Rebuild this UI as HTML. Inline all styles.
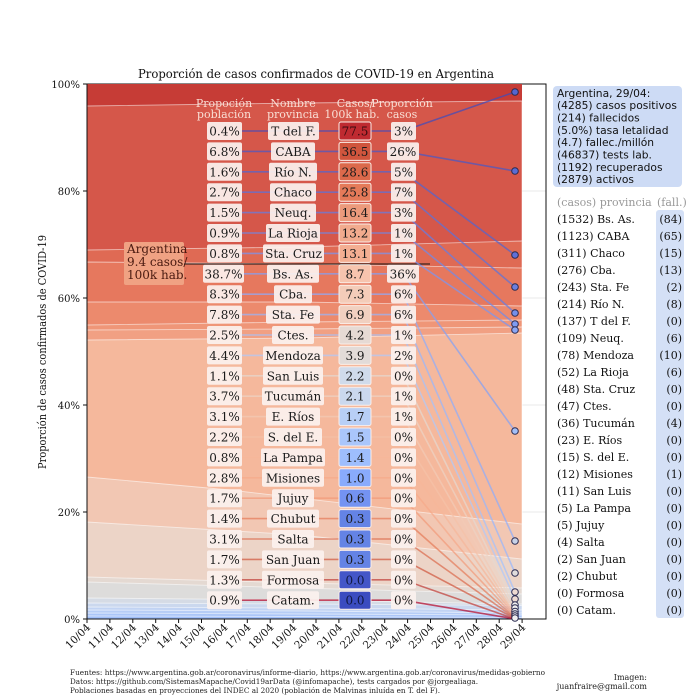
<!DOCTYPE html>
<html><head><meta charset="utf-8"><style>
html,body{margin:0;padding:0;background:#fff}
svg{display:block}
.s{font-family:"DejaVu Serif","Liberation Serif",serif}
.ss{font-family:"DejaVu Sans","Liberation Sans",sans-serif}
</style></head><body>
<svg width="696" height="696" viewBox="0 0 696 696" xmlns="http://www.w3.org/2000/svg">
<rect width="696" height="696" fill="#fff"/>
<text class="s" x="316" y="78" font-size="12.5" text-anchor="middle" textLength="356" lengthAdjust="spacingAndGlyphs" fill="#111">Proporción de casos confirmados de COVID-19 en Argentina</text>
<text class="s" font-size="11" text-anchor="middle" transform="translate(46,352) rotate(-90)" textLength="234" lengthAdjust="spacingAndGlyphs" fill="#111">Proporción de casos confirmados de COVID-19</text>
<g stroke="#e8e8e8" stroke-width="1">
<line x1="522" y1="191" x2="546" y2="191"/><line x1="522" y1="298" x2="546" y2="298"/><line x1="522" y1="405" x2="546" y2="405"/><line x1="522" y1="512" x2="546" y2="512"/>
</g>
<rect x="87" y="84" width="459" height="535" fill="none" stroke="#111" stroke-width="1"/>
<g stroke="#fff" stroke-opacity="0.55" stroke-width="0.9">
<rect x="87" y="84" width="435" height="535" fill="#c63c36" stroke="none"/>
<polygon points="87,106 300,103 522,101 522,619 87,619" fill="#d5574a"/>
<polygon points="87,250 300,247 522,241 522,619 87,619" fill="#df6a54"/>
<polygon points="87,262 300,264 522,268 522,619 87,619" fill="#e6785e"/>
<polygon points="87,302 300,302 522,306 522,619 87,619" fill="#ec8a6d"/>
<polygon points="87,325 300,322 522,320 522,619 87,619" fill="#ef9678"/>
<polygon points="87,330 300,329 522,327 522,619 87,619" fill="#f1a083"/>
<polygon points="87,340 300,338 522,333 522,619 87,619" fill="#f5b89c"/>
<polygon points="87,477 230,490 522,524 522,619 87,619" fill="#f2c7b3"/>
<polygon points="87,522 300,535 522,559 522,619 87,619" fill="#ecd4c7"/>
<polygon points="87,577 300,583 522,588 522,619 87,619" fill="#e4d9d2"/>
<polygon points="87,582 300,588 522,594 522,619 87,619" fill="#dddcdb"/>
<polygon points="87,598 300,600 522,604 522,619 87,619" fill="#d5dbe5"/>
<polygon points="87,603 300,604 522,605.5 522,619 87,619" fill="#cbd8ee"/>
<polygon points="87,607 300,608 522,610 522,619 87,619" fill="#c1d3f3"/>
<polygon points="87,610 300,611 522,613 522,619 87,619" fill="#b6cdf6"/>
<polygon points="87,613 300,614 522,615 522,619 87,619" fill="#abc6f8"/>
<polygon points="87,616 300,616.5 522,617.5 522,619 87,619" fill="#a1bff9"/>
</g>
<g stroke="#111" stroke-width="1">
<line x1="83" y1="84" x2="87" y2="84"/><line x1="83" y1="191" x2="87" y2="191"/><line x1="83" y1="298" x2="87" y2="298"/><line x1="83" y1="405" x2="87" y2="405"/><line x1="83" y1="512" x2="87" y2="512"/><line x1="83" y1="619" x2="87" y2="619"/>
<line x1="87" y1="84" x2="87" y2="619"/><line x1="87" y1="619" x2="546" y2="619"/>
<line x1="87" y1="619" x2="87" y2="623"/><line x1="109.9" y1="619" x2="109.9" y2="623"/><line x1="132.8" y1="619" x2="132.8" y2="623"/><line x1="155.7" y1="619" x2="155.7" y2="623"/><line x1="178.6" y1="619" x2="178.6" y2="623"/><line x1="201.5" y1="619" x2="201.5" y2="623"/><line x1="224.4" y1="619" x2="224.4" y2="623"/><line x1="247.3" y1="619" x2="247.3" y2="623"/><line x1="270.2" y1="619" x2="270.2" y2="623"/><line x1="293.1" y1="619" x2="293.1" y2="623"/><line x1="316" y1="619" x2="316" y2="623"/><line x1="338.9" y1="619" x2="338.9" y2="623"/><line x1="361.8" y1="619" x2="361.8" y2="623"/><line x1="384.7" y1="619" x2="384.7" y2="623"/><line x1="407.6" y1="619" x2="407.6" y2="623"/><line x1="430.5" y1="619" x2="430.5" y2="623"/><line x1="453.4" y1="619" x2="453.4" y2="623"/><line x1="476.3" y1="619" x2="476.3" y2="623"/><line x1="499.2" y1="619" x2="499.2" y2="623"/><line x1="522.1" y1="619" x2="522.1" y2="623"/>
</g>
<g class="s" font-size="10" fill="#111" text-anchor="end">
<text x="80" y="88">100%</text><text x="80" y="195">80%</text><text x="80" y="302">60%</text><text x="80" y="409">40%</text><text x="80" y="516">20%</text><text x="80" y="623">0%</text>
</g>
<g class="s" font-size="10.5" fill="#111" text-anchor="end">
<text transform="translate(91,628) rotate(-45)">10/04</text>
<text transform="translate(113.9,628) rotate(-45)">11/04</text>
<text transform="translate(136.8,628) rotate(-45)">12/04</text>
<text transform="translate(159.7,628) rotate(-45)">13/04</text>
<text transform="translate(182.6,628) rotate(-45)">14/04</text>
<text transform="translate(205.5,628) rotate(-45)">15/04</text>
<text transform="translate(228.4,628) rotate(-45)">16/04</text>
<text transform="translate(251.3,628) rotate(-45)">17/04</text>
<text transform="translate(274.2,628) rotate(-45)">18/04</text>
<text transform="translate(297.1,628) rotate(-45)">19/04</text>
<text transform="translate(320,628) rotate(-45)">20/04</text>
<text transform="translate(342.9,628) rotate(-45)">21/04</text>
<text transform="translate(365.8,628) rotate(-45)">22/04</text>
<text transform="translate(388.7,628) rotate(-45)">23/04</text>
<text transform="translate(411.6,628) rotate(-45)">24/04</text>
<text transform="translate(434.5,628) rotate(-45)">25/04</text>
<text transform="translate(457.4,628) rotate(-45)">26/04</text>
<text transform="translate(480.3,628) rotate(-45)">27/04</text>
<text transform="translate(503.2,628) rotate(-45)">28/04</text>
<text transform="translate(526.1,628) rotate(-45)">29/04</text>
</g>
<g class="s" font-size="11" fill="#f9ded4" text-anchor="middle">
<text x="224" y="107">Propoción</text><text x="224" y="118">población</text>
<text x="293" y="107">Nombre</text><text x="293" y="118">provincia</text>
<text x="355" y="107">Casos/</text><text x="352" y="118">100k hab.</text>
<text x="402" y="107">Proporción</text><text x="402" y="118">casos</text>
</g>
<line x1="182" y1="264" x2="430" y2="264" stroke="#111" stroke-width="1"/>
<rect x="124" y="242" width="60" height="43" fill="#f0a283" rx="2"/>
<g class="s" font-size="12" fill="#4a1a10"><text x="127" y="253">Argentina</text><text x="127" y="266">9.4 casos/</text><text x="127" y="279">100k hab.</text></g>
<g stroke-width="1.6" fill="none" stroke-opacity="0.7">
<polyline points="240,131 403,131 515,92" stroke="#3b4cc0"/>
<polyline points="240,151.4 403,151.4 515,171" stroke="#4358cb"/>
<polyline points="240,171.8 403,171.8 515,255" stroke="#4c66d6"/>
<polyline points="240,192.2 403,192.2 515,287" stroke="#5573df"/>
<polyline points="240,212.6 403,212.6 515,313" stroke="#5f7fe8"/>
<polyline points="240,233 403,233 515,324" stroke="#6a8bef"/>
<polyline points="240,253.4 403,253.4 515,330" stroke="#7597f6"/>
<polyline points="240,273.8 403,273.8 515,431" stroke="#7fa1fa"/>
<polyline points="240,294.2 403,294.2 515,541" stroke="#8badfd"/>
<polyline points="240,314.6 403,314.6 515,573" stroke="#96b7ff"/>
<polyline points="240,335 403,335 515,592" stroke="#a3c2fe"/>
<polyline points="240,355.4 403,355.4 515,599" stroke="#aec9fc"/>
<polyline points="240,375.8 403,375.8 515,605" stroke="#e4d9d2"/>
<polyline points="240,396.2 403,396.2 515,608" stroke="#ecd3c5"/>
<polyline points="240,416.6 403,416.6 515,611.5" stroke="#f2cbb7"/>
<polyline points="240,437 403,437 515,614" stroke="#f5c2a8"/>
<polyline points="240,457.4 403,457.4 515,615" stroke="#f7b79a"/>
<polyline points="240,477.8 403,477.8 515,616" stroke="#f6a98a"/>
<polyline points="240,498.2 403,498.2 515,617" stroke="#f29a79"/>
<polyline points="240,518.6 403,518.6 515,617.8" stroke="#e57a59"/>
<polyline points="240,539 403,539 515,618.1" stroke="#dc694b"/>
<polyline points="240,559.4 403,559.4 515,618.5" stroke="#d0553d"/>
<polyline points="240,579.8 403,579.8 515,619" stroke="#c03a35"/>
<polyline points="240,600.2 403,600.2 515,619" stroke="#b40426"/>
</g>
<g stroke="#2a2a50" stroke-width="1">
<circle cx="515" cy="92" r="3.3" fill="#5566d0"/>
<circle cx="515" cy="171" r="3.3" fill="#5a6cd4"/>
<circle cx="515" cy="255" r="3.3" fill="#6070d8"/>
<circle cx="515" cy="287" r="3.3" fill="#6a80e0"/>
<circle cx="515" cy="313" r="3.3" fill="#7590ea"/>
<circle cx="515" cy="324" r="3.3" fill="#7f9cf2"/>
<circle cx="515" cy="330" r="3.3" fill="#8aa7f6"/>
<circle cx="515" cy="431" r="3.3" fill="#a3bff8"/>
<circle cx="515" cy="541" r="3.3" fill="#c8d2e8"/>
<circle cx="515" cy="573" r="3.3" fill="#e0dcdc"/>
<circle cx="515" cy="592" r="3.3" fill="#eddad2"/>
<circle cx="515" cy="599" r="3.3" fill="#eddad2"/>
<circle cx="515" cy="605" r="3.3" fill="#eee"/>
<circle cx="515" cy="608" r="3.3" fill="#eee"/>
<circle cx="515" cy="611.5" r="3.3" fill="#eee"/>
<circle cx="515" cy="614" r="3.3" fill="#eee"/>
<circle cx="515" cy="616" r="3.3" fill="#eee"/>
<circle cx="515" cy="618" r="3.3" fill="#eee"/>
</g>
<g fill="#fbf1ee" fill-opacity="0.93">
<rect x="207" y="122" width="35" height="18" rx="2"/>
<rect x="207" y="142.4" width="35" height="18" rx="2"/>
<rect x="207" y="162.8" width="35" height="18" rx="2"/>
<rect x="207" y="183.2" width="35" height="18" rx="2"/>
<rect x="207" y="203.6" width="35" height="18" rx="2"/>
<rect x="207" y="224" width="35" height="18" rx="2"/>
<rect x="207" y="244.4" width="35" height="18" rx="2"/>
<rect x="203" y="264.8" width="41" height="18" rx="2"/>
<rect x="207" y="285.2" width="35" height="18" rx="2"/>
<rect x="207" y="305.6" width="35" height="18" rx="2"/>
<rect x="207" y="326" width="35" height="18" rx="2"/>
<rect x="207" y="346.4" width="35" height="18" rx="2"/>
<rect x="207" y="366.8" width="35" height="18" rx="2"/>
<rect x="207" y="387.2" width="35" height="18" rx="2"/>
<rect x="207" y="407.6" width="35" height="18" rx="2"/>
<rect x="207" y="428" width="35" height="18" rx="2"/>
<rect x="207" y="448.4" width="35" height="18" rx="2"/>
<rect x="207" y="468.8" width="35" height="18" rx="2"/>
<rect x="207" y="489.2" width="35" height="18" rx="2"/>
<rect x="207" y="509.6" width="35" height="18" rx="2"/>
<rect x="207" y="530" width="35" height="18" rx="2"/>
<rect x="207" y="550.4" width="35" height="18" rx="2"/>
<rect x="207" y="570.8" width="35" height="18" rx="2"/>
<rect x="207" y="591.2" width="35" height="18" rx="2"/>
<rect x="268" y="122" width="51" height="18" rx="2"/>
<rect x="271" y="142.4" width="44" height="18" rx="2"/>
<rect x="269" y="162.8" width="48" height="18" rx="2"/>
<rect x="270" y="183.2" width="46" height="18" rx="2"/>
<rect x="270" y="203.6" width="46" height="18" rx="2"/>
<rect x="266" y="224" width="54" height="18" rx="2"/>
<rect x="263" y="244.4" width="61" height="18" rx="2"/>
<rect x="267" y="264.8" width="52" height="18" rx="2"/>
<rect x="274" y="285.2" width="38" height="18" rx="2"/>
<rect x="266" y="305.6" width="54" height="18" rx="2"/>
<rect x="272" y="326" width="42" height="18" rx="2"/>
<rect x="263" y="346.4" width="60" height="18" rx="2"/>
<rect x="263" y="366.8" width="60" height="18" rx="2"/>
<rect x="262" y="387.2" width="62" height="18" rx="2"/>
<rect x="266" y="407.6" width="54" height="18" rx="2"/>
<rect x="264" y="428" width="58" height="18" rx="2"/>
<rect x="261" y="448.4" width="64" height="18" rx="2"/>
<rect x="262" y="468.8" width="62" height="18" rx="2"/>
<rect x="272" y="489.2" width="42" height="18" rx="2"/>
<rect x="267" y="509.6" width="52" height="18" rx="2"/>
<rect x="272" y="530" width="42" height="18" rx="2"/>
<rect x="262" y="550.4" width="62" height="18" rx="2"/>
<rect x="262" y="570.8" width="62" height="18" rx="2"/>
<rect x="267" y="591.2" width="52" height="18" rx="2"/>
<rect x="391" y="122" width="25" height="18" rx="2"/>
<rect x="387" y="142.4" width="32" height="18" rx="2"/>
<rect x="391" y="162.8" width="25" height="18" rx="2"/>
<rect x="391" y="183.2" width="25" height="18" rx="2"/>
<rect x="391" y="203.6" width="25" height="18" rx="2"/>
<rect x="391" y="224" width="25" height="18" rx="2"/>
<rect x="391" y="244.4" width="25" height="18" rx="2"/>
<rect x="387" y="264.8" width="32" height="18" rx="2"/>
<rect x="391" y="285.2" width="25" height="18" rx="2"/>
<rect x="391" y="305.6" width="25" height="18" rx="2"/>
<rect x="391" y="326" width="25" height="18" rx="2"/>
<rect x="391" y="346.4" width="25" height="18" rx="2"/>
<rect x="391" y="366.8" width="25" height="18" rx="2"/>
<rect x="391" y="387.2" width="25" height="18" rx="2"/>
<rect x="391" y="407.6" width="25" height="18" rx="2"/>
<rect x="391" y="428" width="25" height="18" rx="2"/>
<rect x="391" y="448.4" width="25" height="18" rx="2"/>
<rect x="391" y="468.8" width="25" height="18" rx="2"/>
<rect x="391" y="489.2" width="25" height="18" rx="2"/>
<rect x="391" y="509.6" width="25" height="18" rx="2"/>
<rect x="391" y="530" width="25" height="18" rx="2"/>
<rect x="391" y="550.4" width="25" height="18" rx="2"/>
<rect x="391" y="570.8" width="25" height="18" rx="2"/>
<rect x="391" y="591.2" width="25" height="18" rx="2"/>
</g>
<g stroke="#fbeee8" stroke-width="1">
<rect x="339" y="122" width="32" height="18" rx="2" fill="#bf2a31"/>
<rect x="339" y="142.4" width="32" height="18" rx="2" fill="#d0553d"/>
<rect x="339" y="162.8" width="32" height="18" rx="2" fill="#dc694b"/>
<rect x="339" y="183.2" width="32" height="18" rx="2" fill="#e57a59"/>
<rect x="339" y="203.6" width="32" height="18" rx="2" fill="#ec9a7c"/>
<rect x="339" y="224" width="32" height="18" rx="2" fill="#f2ab8e"/>
<rect x="339" y="244.4" width="32" height="18" rx="2" fill="#f4ae92"/>
<rect x="339" y="264.8" width="32" height="18" rx="2" fill="#f7c4ae"/>
<rect x="339" y="285.2" width="32" height="18" rx="2" fill="#f4ccb9"/>
<rect x="339" y="305.6" width="32" height="18" rx="2" fill="#f1d0c0"/>
<rect x="339" y="326" width="32" height="18" rx="2" fill="#e6dad4"/>
<rect x="339" y="346.4" width="32" height="18" rx="2" fill="#e2dbd8"/>
<rect x="339" y="366.8" width="32" height="18" rx="2" fill="#d0dbeb"/>
<rect x="339" y="387.2" width="32" height="18" rx="2" fill="#cbd8ee"/>
<rect x="339" y="407.6" width="32" height="18" rx="2" fill="#b8cff6"/>
<rect x="339" y="428" width="32" height="18" rx="2" fill="#aac6fb"/>
<rect x="339" y="448.4" width="32" height="18" rx="2" fill="#9ebefd"/>
<rect x="339" y="468.8" width="32" height="18" rx="2" fill="#89abfc"/>
<rect x="339" y="489.2" width="32" height="18" rx="2" fill="#7493f2"/>
<rect x="339" y="509.6" width="32" height="18" rx="2" fill="#6483e5"/>
<rect x="339" y="530" width="32" height="18" rx="2" fill="#6483e5"/>
<rect x="339" y="550.4" width="32" height="18" rx="2" fill="#6483e5"/>
<rect x="339" y="570.8" width="32" height="18" rx="2" fill="#4456c8"/>
<rect x="339" y="591.2" width="32" height="18" rx="2" fill="#3b4cc0"/>
</g>
<g class="s" font-size="12" fill="#1a1a1a" text-anchor="middle">
<text x="224.5" y="135.5">0.4%</text><text x="293.5" y="135.5">T del F.</text><text x="355" y="135.5" fill="#3a0a10">77.5</text><text x="403.5" y="135.5">3%</text>
<text x="224.5" y="155.9">6.8%</text><text x="293" y="155.9">CABA</text><text x="355" y="155.9">36.5</text><text x="403" y="155.9">26%</text>
<text x="224.5" y="176.3">1.6%</text><text x="293" y="176.3">Río N.</text><text x="355" y="176.3">28.6</text><text x="403.5" y="176.3">5%</text>
<text x="224.5" y="196.7">2.7%</text><text x="293" y="196.7">Chaco</text><text x="355" y="196.7">25.8</text><text x="403.5" y="196.7">7%</text>
<text x="224.5" y="217.1">1.5%</text><text x="293" y="217.1">Neuq.</text><text x="355" y="217.1">16.4</text><text x="403.5" y="217.1">3%</text>
<text x="224.5" y="237.5">0.9%</text><text x="293" y="237.5">La Rioja</text><text x="355" y="237.5">13.2</text><text x="403.5" y="237.5">1%</text>
<text x="224.5" y="257.9">0.8%</text><text x="293.5" y="257.9">Sta. Cruz</text><text x="355" y="257.9">13.1</text><text x="403.5" y="257.9">1%</text>
<text x="223.5" y="278.3">38.7%</text><text x="293" y="278.3">Bs. As.</text><text x="355" y="278.3">8.7</text><text x="403" y="278.3">36%</text>
<text x="224.5" y="298.7">8.3%</text><text x="293" y="298.7">Cba.</text><text x="355" y="298.7">7.3</text><text x="403.5" y="298.7">6%</text>
<text x="224.5" y="319.1">7.8%</text><text x="293" y="319.1">Sta. Fe</text><text x="355" y="319.1">6.9</text><text x="403.5" y="319.1">6%</text>
<text x="224.5" y="339.5">2.5%</text><text x="293" y="339.5">Ctes.</text><text x="355" y="339.5">4.2</text><text x="403.5" y="339.5">1%</text>
<text x="224.5" y="359.9">4.4%</text><text x="293" y="359.9">Mendoza</text><text x="355" y="359.9">3.9</text><text x="403.5" y="359.9">2%</text>
<text x="224.5" y="380.3">1.1%</text><text x="293" y="380.3">San Luis</text><text x="355" y="380.3">2.2</text><text x="403.5" y="380.3">0%</text>
<text x="224.5" y="400.7">3.7%</text><text x="293" y="400.7">Tucumán</text><text x="355" y="400.7">2.1</text><text x="403.5" y="400.7">1%</text>
<text x="224.5" y="421.1">3.1%</text><text x="293" y="421.1">E. Ríos</text><text x="355" y="421.1">1.7</text><text x="403.5" y="421.1">1%</text>
<text x="224.5" y="441.5">2.2%</text><text x="293" y="441.5">S. del E.</text><text x="355" y="441.5">1.5</text><text x="403.5" y="441.5">0%</text>
<text x="224.5" y="461.9">0.8%</text><text x="293" y="461.9">La Pampa</text><text x="355" y="461.9">1.4</text><text x="403.5" y="461.9">0%</text>
<text x="224.5" y="482.3">2.8%</text><text x="293" y="482.3">Misiones</text><text x="355" y="482.3">1.0</text><text x="403.5" y="482.3">0%</text>
<text x="224.5" y="502.7">1.7%</text><text x="293" y="502.7">Jujuy</text><text x="355" y="502.7">0.6</text><text x="403.5" y="502.7">0%</text>
<text x="224.5" y="523.1">1.4%</text><text x="293" y="523.1">Chubut</text><text x="355" y="523.1">0.3</text><text x="403.5" y="523.1">0%</text>
<text x="224.5" y="543.5">3.1%</text><text x="293" y="543.5">Salta</text><text x="355" y="543.5">0.3</text><text x="403.5" y="543.5">0%</text>
<text x="224.5" y="563.9">1.7%</text><text x="293" y="563.9">San Juan</text><text x="355" y="563.9">0.3</text><text x="403.5" y="563.9">0%</text>
<text x="224.5" y="584.3">1.3%</text><text x="293" y="584.3">Formosa</text><text x="355" y="584.3" fill="#101840">0.0</text><text x="403.5" y="584.3">0%</text>
<text x="224.5" y="604.7">0.9%</text><text x="293" y="604.7">Catam.</text><text x="355" y="604.7" fill="#101840">0.0</text><text x="403.5" y="604.7">0%</text>
</g>
<rect x="553" y="86" width="129" height="101" rx="4" fill="#cddbf5"/>
<g class="ss" font-size="10.7" fill="#111">
<text x="557" y="97">Argentina, 29/04:</text>
<text x="557" y="109">(4285) casos positivos</text>
<text x="557" y="121.5">(214) fallecidos</text>
<text x="557" y="134">(5.0%) tasa letalidad</text>
<text x="557" y="146">(4.7) fallec./millón</text>
<text x="557" y="158.5">(46837) tests lab.</text>
<text x="557" y="171">(1192) recuperados</text>
<text x="557" y="183">(2879) activos</text>
</g>
<rect x="656" y="210" width="28" height="408" rx="3" fill="#d4e0f6"/>
<g class="s" font-size="11" fill="#999"><text x="557" y="206">(casos) provincia</text><text x="657" y="206">(fall.)</text></g>
<g class="s" font-size="11" fill="#111">
<text x="557" y="223">(1532) Bs. As.</text>
<text x="557" y="240">(1123) CABA</text>
<text x="557" y="257">(311) Chaco</text>
<text x="557" y="274">(276) Cba.</text>
<text x="557" y="291">(243) Sta. Fe</text>
<text x="557" y="308">(214) Río N.</text>
<text x="557" y="325">(137) T del F.</text>
<text x="557" y="342">(109) Neuq.</text>
<text x="557" y="359">(78) Mendoza</text>
<text x="557" y="376">(52) La Rioja</text>
<text x="557" y="393">(48) Sta. Cruz</text>
<text x="557" y="410">(47) Ctes.</text>
<text x="557" y="427">(36) Tucumán</text>
<text x="557" y="444">(23) E. Ríos</text>
<text x="557" y="461">(15) S. del E.</text>
<text x="557" y="478">(12) Misiones</text>
<text x="557" y="495">(11) San Luis</text>
<text x="557" y="512">(5) La Pampa</text>
<text x="557" y="529">(5) Jujuy</text>
<text x="557" y="546">(4) Salta</text>
<text x="557" y="563">(2) San Juan</text>
<text x="557" y="580">(2) Chubut</text>
<text x="557" y="597">(0) Formosa</text>
<text x="557" y="614">(0) Catam.</text>
</g>
<g class="s" font-size="11" fill="#111" text-anchor="end">
<text x="682" y="223">(84)</text><text x="682" y="240">(65)</text><text x="682" y="257">(15)</text><text x="682" y="274">(13)</text><text x="682" y="291">(2)</text><text x="682" y="308">(8)</text><text x="682" y="325">(0)</text><text x="682" y="342">(6)</text><text x="682" y="359">(10)</text><text x="682" y="376">(6)</text><text x="682" y="393">(0)</text><text x="682" y="410">(0)</text><text x="682" y="427">(4)</text><text x="682" y="444">(0)</text><text x="682" y="461">(0)</text><text x="682" y="478">(1)</text><text x="682" y="495">(0)</text><text x="682" y="512">(0)</text><text x="682" y="529">(0)</text><text x="682" y="546">(0)</text><text x="682" y="563">(0)</text><text x="682" y="580">(0)</text><text x="682" y="597">(0)</text><text x="682" y="614">(0)</text>
</g>
<g class="s" font-size="7.5" fill="#222">
<text x="70" y="675" textLength="475" lengthAdjust="spacingAndGlyphs">Fuentes: https://www.argentina.gob.ar/coronavirus/informe-diario, https://www.argentina.gob.ar/coronavirus/medidas-gobierno</text>
<text x="70" y="684" textLength="408" lengthAdjust="spacingAndGlyphs">Datos: https://github.com/SistemasMapache/Covid19arData (@infomapache), tests cargados por @jorgealiaga.</text>
<text x="70" y="693" textLength="370" lengthAdjust="spacingAndGlyphs">Poblaciones basadas en proyecciones del INDEC al 2020 (población de Malvinas inluída en T. del F).</text>
<text x="647" y="680" text-anchor="end" font-size="8">Imagen:</text>
<text x="647" y="689" text-anchor="end" font-size="8">juanfraire@gmail.com</text>
</g>
</svg>
</body></html>
